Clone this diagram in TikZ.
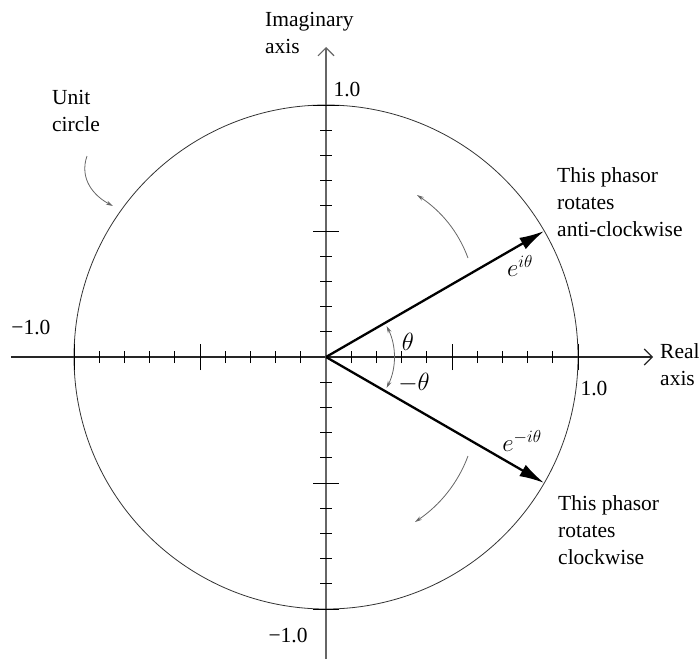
\documentclass[tikz,border=0pt]{standalone}
\usepackage{fontspec}
\setmainfont{Liberation Serif}
\usetikzlibrary{arrows.meta}
\begin{document}
\begin{tikzpicture}[x=1pt, y=1pt,
    lbl/.style={font=\fontsize{21.5}{27}\selectfont, align=left, inner sep=0pt},
    mlbl/.style={font=\fontsize{23}{26}\selectfont, inner sep=0pt},
    axisline/.style={line width=1.1pt, -{Straight Barb[length=8pt, width=16pt]}},
    phasor/.style={line width=2.3pt, -{Latex[length=25pt, width=13pt]}},
    turn/.style={black!60, line width=0.8pt, -{Stealth[length=7pt, width=4pt]}},
    tick/.style={line width=0.9pt}]
    \useasboundingbox (-326, -302) rectangle (374, 357);

    % axes and unit circle
    \coordinate (O) at (0, 0);
    \coordinate (xl) at (-315, 0);
    \coordinate (xr) at (327, 0);
    \coordinate (yb) at (0, -302);
    \coordinate (yt) at (0, 310);
    \draw[axisline, black!85] (xl) -- (xr);
    \draw[axisline, black!60] (yb) -- (yt);
    \draw[black!80, line width=0.8pt] (O) circle (252);

    % tick marks every 0.1
    \foreach \i in {-10,...,-1,1,2,...,10} {
        \pgfmathsetmacro\len{ifthenelse(abs(\i)==5 || abs(\i)==10, 13, 6)}
        \draw[tick] (\i*25.2, -\len) -- (\i*25.2, \len);
        \draw[tick] (-\len, \i*25.2) -- (\len, \i*25.2);
    }

    % axis labels
    \node[lbl, anchor=west] (imlbl) at (-61, 324) {Imaginary\\axis};
    \node[lbl, anchor=west] (relbl) at (334, -8) {Real\\axis};
    \node[lbl] (ytop) at (21, 267) {1.0};
    \node[lbl] (ybot) at (-38, -278) {−1.0};
    \node[lbl] (xleft) at (-295, 30) {−1.0};
    \node[lbl] (xright) at (268, -31) {1.0};

    % phasors
    \coordinate (P1) at (30:252);
    \coordinate (P2) at (-30:252);
    \draw[phasor] (O) -- (P1);
    \draw[phasor] (O) -- (P2);
    \node[mlbl] (e1) at (194, 91) {$e^{i\theta}$};
    \node[mlbl] (e2) at (196, -84) {$e^{-i\theta}$};

    % angle
    \draw[black!60, line width=0.8pt, {Stealth[length=7pt, width=4pt]}-{Stealth[length=7pt, width=4pt]}]
        (27:68) arc (27:-27:68);
    \node[mlbl] (th1) at (82, 15) {$\theta$};
    \node[mlbl] (th2) at (88, -26) {$-\theta$};

    % rotation arrows
    \coordinate (r1a) at (142, 99);
    \coordinate (r1b) at (91, 162);
    \coordinate (r2a) at (142, -99);
    \coordinate (r2b) at (89, -165);
    \draw[turn] (r1a) .. controls (132, 126) and (115, 146) .. (r1b);
    \draw[turn] (r2a) .. controls (132, -126) and (114, -148) .. (r2b);
    \node[lbl, anchor=west] (acw) at (231, 155) {This phasor\\rotates\\anti-clockwise};
    \node[lbl, anchor=west] (cw) at (232, -173) {This phasor\\rotates\\clockwise};

    % unit circle pointer
    \node[lbl, anchor=west] (unit) at (-274, 246) {Unit\\circle};
    \coordinate (ua) at (-239, 201);
    \coordinate (ub) at (-213, 151);
    \draw[turn] (ua) .. controls (-247, 178) and (-232, 161) .. (ub);
\end{tikzpicture}
\end{document}
